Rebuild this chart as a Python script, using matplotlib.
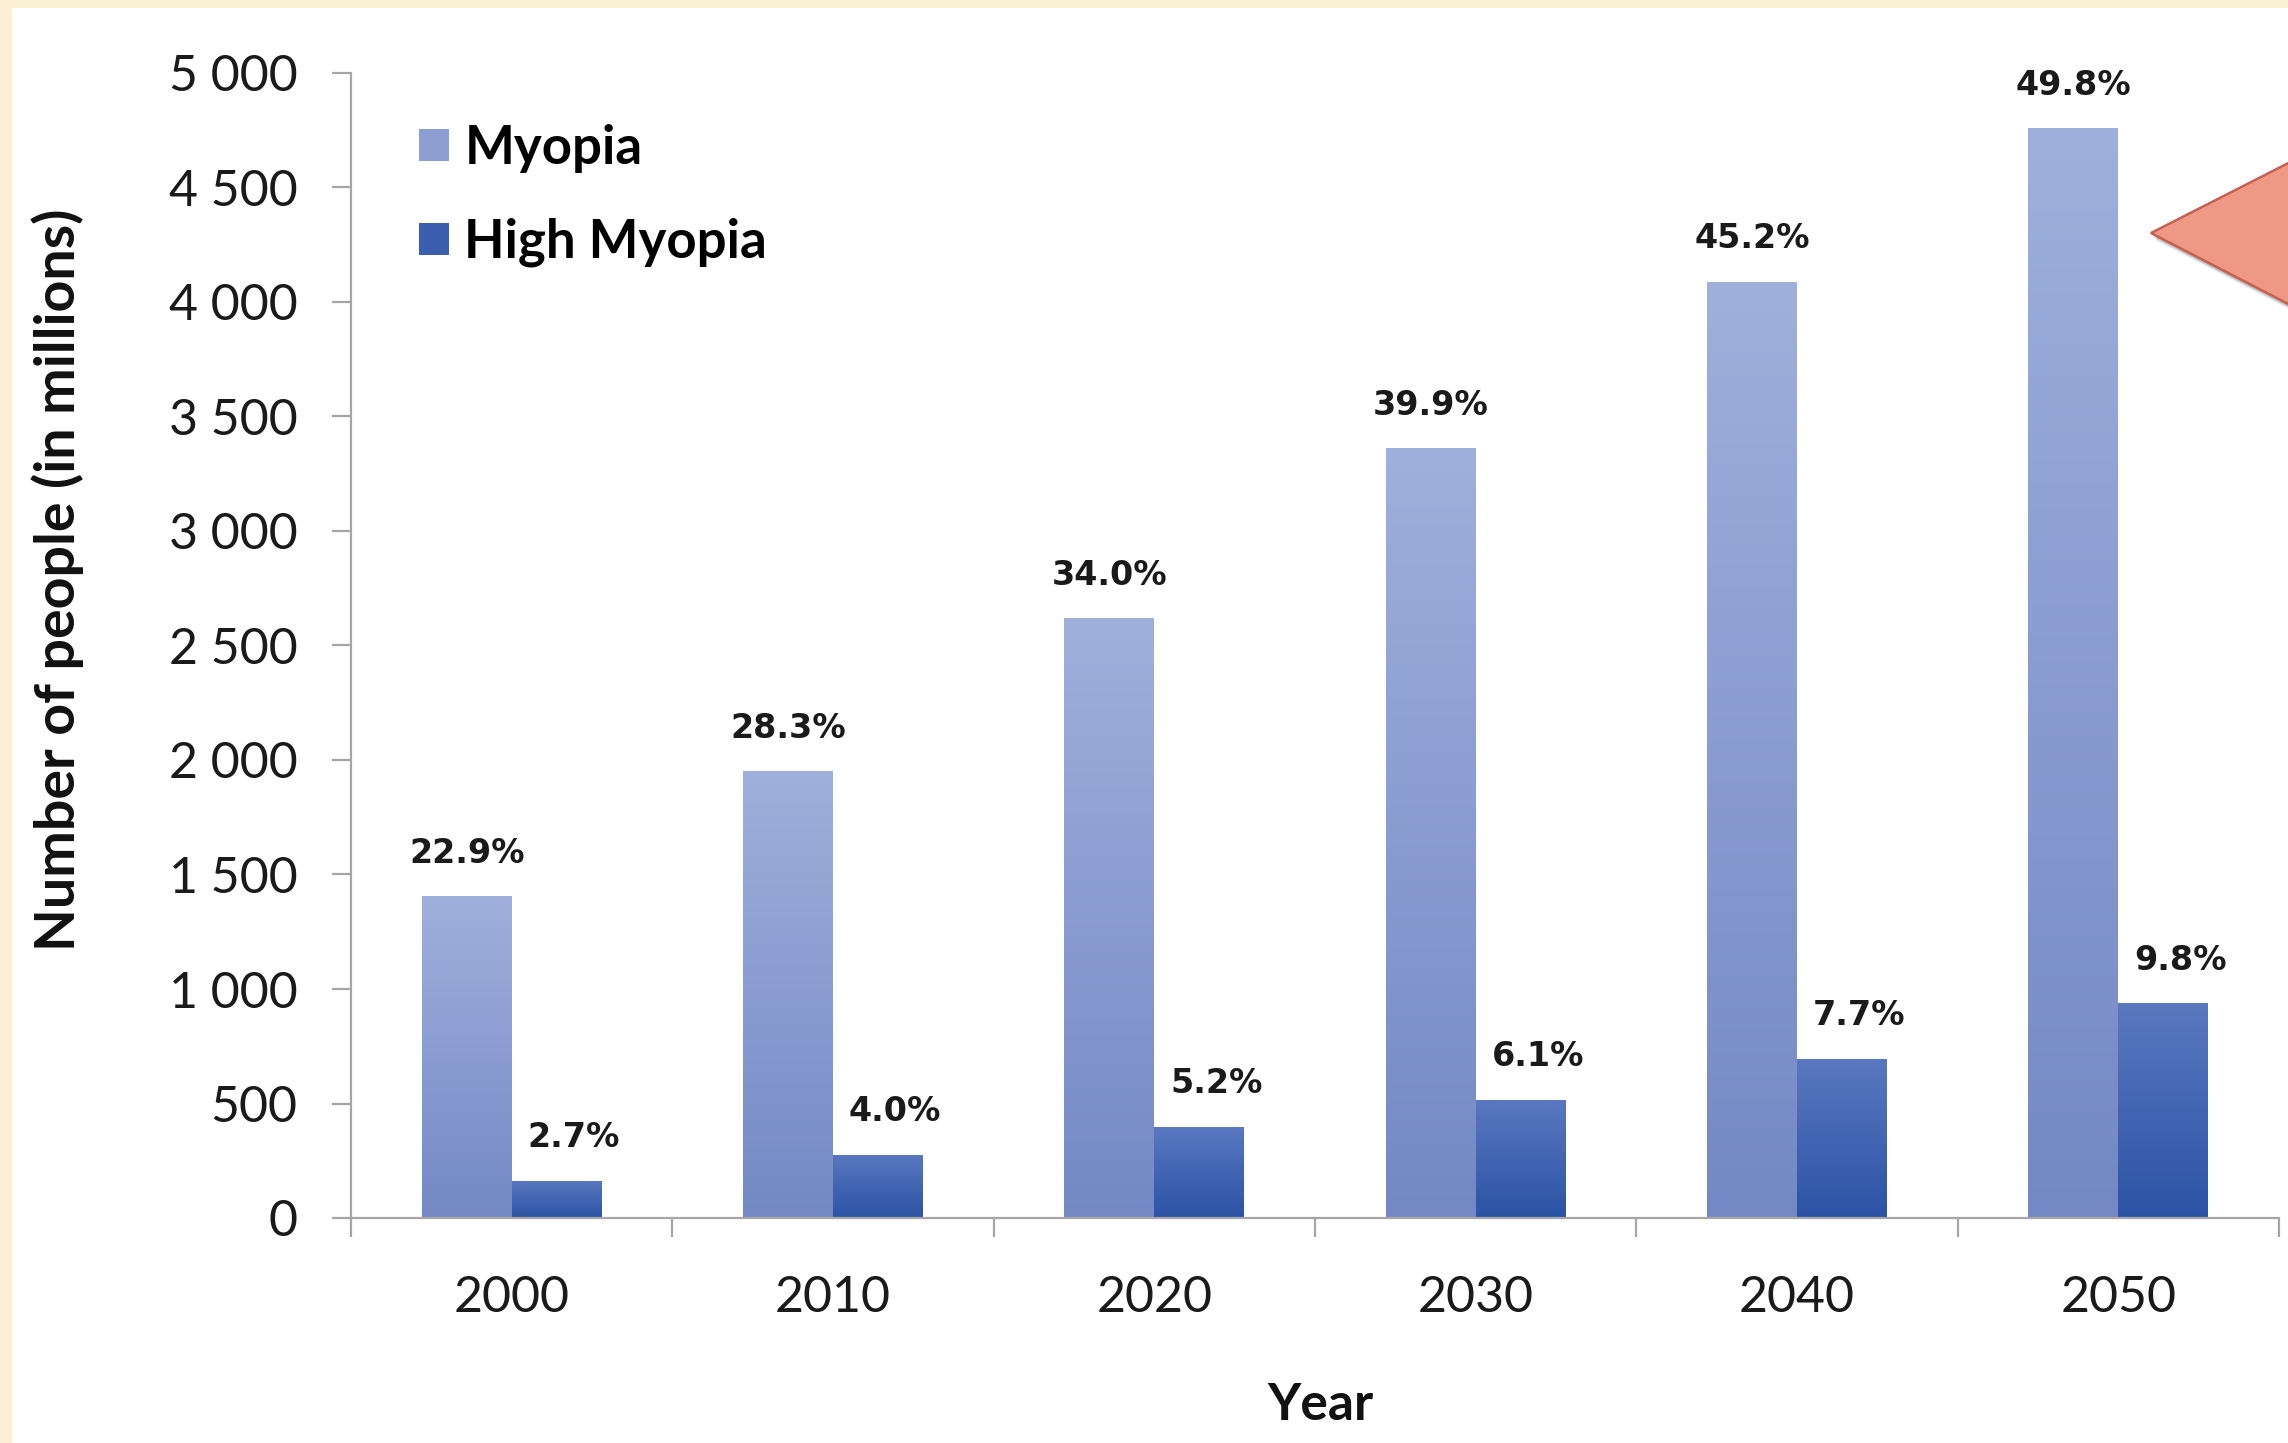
import numpy as np
import matplotlib
matplotlib.use("Agg")
import matplotlib.pyplot as plt
from matplotlib.patches import Rectangle, Polygon, Patch
from matplotlib.colors import to_rgb
from matplotlib.font_manager import FontProperties

# ---- data -------------------------------------------------------------
years = ["2000", "2010", "2020", "2030", "2040", "2050"]
myopia = [1406, 1950, 2620, 3361, 4089, 4758]          # millions of people
high_myopia = [163, 277, 399, 517, 696, 938]          # millions of people
myopia_pct = ["22.9%", "28.3%", "34.0%", "39.9%", "45.2%", "49.8%"]
high_pct = ["2.7%", "4.0%", "5.2%", "6.1%", "7.7%", "9.8%"]
y_ticks = [0, 500, 1000, 1500, 2000, 2500, 3000, 3500, 4000, 4500, 5000]
y_tick_labels = ["0", "500", "1 000", "1 500", "2 000", "2 500",
                 "3 000", "3 500", "4 000", "4 500", "5 000"]
series_names = ["Myopia", "High Myopia"]

# ---- styling ----------------------------------------------------------
W, H, DPI = 2288, 1443, 100
CREAM = "#FBF0D3"
AXIS_GREY = "#A6A6A6"
MYO_TOP, MYO_BOT = "#9FB0DC", "#7488C5"
HIGH_TOP, HIGH_BOT = "#5A78C0", "#2B53A5"

tick_font = FontProperties(family=["Lato", "DejaVu Sans"], size=36)
ylabel_font = FontProperties(family=["Lato", "DejaVu Sans"], weight="bold", size=40)
xlabel_font = FontProperties(family=["Lato", "DejaVu Sans"], weight="bold", size=37)
legend_font = FontProperties(family=["Lato", "DejaVu Sans"], weight="bold", size=38)
value_font = FontProperties(family=["DejaVu Sans"], weight="bold", size=24)

fig = plt.figure(figsize=(W / DPI, H / DPI), dpi=DPI, facecolor=CREAM)

# white slide panel inside the cream frame
fig.add_artist(Rectangle((12 / W, 0), 1 - 12 / W, 1 - 8 / H,
                         transform=fig.transFigure, facecolor="white",
                         edgecolor="none", zorder=-5))

ax = fig.add_axes([351 / W, (H - 1218) / H, (2279 - 351) / W, (1218 - 73) / H])
ax.set_facecolor("none")


def gradient_bar(bar, top, bottom):
    """Fill a bar patch with a vertical linear gradient."""
    x0, w, h = bar.get_x(), bar.get_width(), bar.get_height()
    t = np.linspace(0, 1, 256)[:, None, None]
    c0, c1 = np.array(to_rgb(bottom)), np.array(to_rgb(top))
    img = c0 + (c1 - c0) * t
    im = ax.imshow(img, extent=[x0, x0 + w, 0, h], origin="lower",
                   aspect="auto", interpolation="bicubic", zorder=2)
    im.set_clip_path(bar)


x = np.arange(len(years))
bw = 0.28
bars_m = ax.bar(x - bw / 2, myopia, bw, color="#8B9DD1", edgecolor="none", zorder=1)
bars_h = ax.bar(x + bw / 2, high_myopia, bw, color="#3E61AF", edgecolor="none", zorder=1)
for b in bars_m:
    gradient_bar(b, MYO_TOP, MYO_BOT)
for b in bars_h:
    gradient_bar(b, HIGH_TOP, HIGH_BOT)

# percentage labels above each bar
for b, txt in zip(bars_m, myopia_pct):
    ax.annotate(txt, (b.get_x() + b.get_width() / 2, b.get_height()),
                xytext=(0, 43), textcoords="offset pixels",
                ha="center", va="center", fontproperties=value_font,
                color="#1a1a1a", zorder=5)
for b, txt in zip(bars_h, high_pct):
    ax.annotate(txt, (b.get_x() + b.get_width() / 2, b.get_height()),
                xytext=(17, 43), textcoords="offset pixels",
                ha="center", va="center", fontproperties=value_font,
                color="#1a1a1a", zorder=5)

ax.set_xlim(-0.5, len(years) - 0.5)
ax.set_ylim(0, 5000)

# axes, ticks
for s in ["top", "right"]:
    ax.spines[s].set_visible(False)
for s in ["left", "bottom"]:
    ax.spines[s].set_color(AXIS_GREY)
    ax.spines[s].set_linewidth(1.6)
    ax.spines[s].set_zorder(3)

ax.set_yticks(y_ticks)
ax.set_yticklabels(y_tick_labels, fontproperties=tick_font)
ax.tick_params(axis="y", direction="out", length=13.5, width=1.6,
               color=AXIS_GREY, pad=25, labelcolor="#1a1a1a")

ax.set_xticks(x)
ax.set_xticklabels(years, fontproperties=tick_font)
ax.set_xticks(np.arange(-0.5, len(years)), minor=True)
ax.tick_params(axis="x", which="major", length=0, pad=41, labelcolor="#1a1a1a")
ax.tick_params(axis="x", which="minor", direction="out", length=13.5,
               width=1.6, color=AXIS_GREY)

# axis titles
fig.text(58 / W, 1 - 580 / H, "Number of people (in millions)", rotation=90,
         ha="center", va="center", fontproperties=ylabel_font, color="#111111")
fig.text(1320 / W, 1 - 1405 / H, "Year", ha="center", va="center",
         fontproperties=xlabel_font, color="#111111")

# legend
handles = [Patch(facecolor="#8C9ED2", edgecolor="none"),
           Patch(facecolor="#3B5FAE", edgecolor="none")]
ax.legend(handles, series_names, loc="upper left",
          bbox_to_anchor=(419 / W, 1 - 124 / H), bbox_transform=fig.transFigure,
          frameon=False, prop=legend_font, handlelength=0.56, handleheight=0.56,
          handletextpad=0.3, labelspacing=0.85, borderpad=0, borderaxespad=0)

# red callout pointer on the right edge
ov = fig.add_axes([0, 0, 1, 1], zorder=10)
ov.set_xlim(0, W)
ov.set_ylim(H, 0)
ov.axis("off")
tip = (2151, 233)
tri = [tip, (2420, 96), (2420, 372)]
for i, a in enumerate([0.07, 0.09, 0.11, 0.13]):
    d = 7 - i * 1.5
    ov.add_patch(Polygon([(px + d * 0.6, py + d) for px, py in tri],
                         closed=True, facecolor="black", edgecolor="none",
                         alpha=a))
tri_patch = Polygon(tri, closed=True, facecolor="#EE9886",
                    edgecolor="#C8604F", linewidth=1.5)
ov.add_patch(tri_patch)
t = np.linspace(0, 1, 256)[:, None, None]
top_c, bot_c = np.array(to_rgb("#F7B3A5")), np.array(to_rgb("#DE7A65"))
grad = top_c + (bot_c - top_c) * t
gim = ov.imshow(grad, extent=[2140, 2430, 380, 90], origin="upper",
                aspect="auto", interpolation="bicubic")
gim.set_clip_path(tri_patch)
ov.add_patch(Polygon(tri, closed=True, facecolor="none",
                     edgecolor="#C8604F", linewidth=1.5))
ov.set_xlim(0, W)
ov.set_ylim(H, 0)

fig.savefig("out.png", dpi=DPI, facecolor=CREAM)
